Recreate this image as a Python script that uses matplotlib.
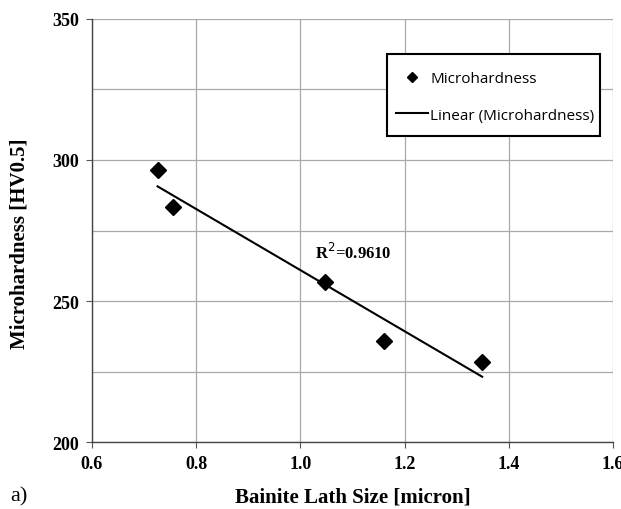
import matplotlib.pyplot as plt
import matplotlib.patches as mpatches
import numpy as np

# bainite lath size (micron) vs microhardness (HV0.5)
lath_size = [0.726, 0.756, 1.047, 1.161, 1.349]
hardness = [296.5, 283.2, 256.9, 235.8, 228.3]
r2_label = "R$^2$=0.9610"

x_ticks = [0.6, 0.8, 1.0, 1.2, 1.4, 1.6]
x_tick_labels = ["0.6", "0.8", "1.0", "1.2", "1.4", "1.6"]
y_ticks = [200, 250, 300, 350]
y_grid = [225, 275, 325]

serif_bold = dict(family="Liberation Serif", fontweight="bold")

fig = plt.figure(figsize=(6.21, 5.1), dpi=100)
ax = fig.add_axes([0.148, 0.131, 0.839, 0.830])

x = np.array(lath_size)
y = np.array(hardness)
slope, icpt = np.polyfit(x, y, 1)
xf = np.array([x.min(), x.max()])

ax.plot(x, y, "D", color="black", ms=8, label="Microhardness", zorder=3)
ax.plot(xf, slope * xf + icpt, "-", color="black", lw=1.5,
        label="Linear (Microhardness)", zorder=2)

ax.set_xlim(0.6, 1.6)
ax.set_ylim(200, 350)
ax.set_xticks(x_ticks)
ax.set_xticklabels(x_tick_labels)
ax.set_yticks(y_ticks)
ax.set_yticks(y_grid, minor=True)
ax.tick_params(which="minor", length=0)
ax.tick_params(which="major", direction="out", length=4, color="#555555",
               pad=5)
ax.grid(True, which="both", color="#a8a8a8", lw=0.9)
ax.set_axisbelow(True)

for lbl in ax.get_xticklabels() + ax.get_yticklabels():
    lbl.set_fontfamily("Liberation Serif")
    lbl.set_fontweight("bold")
    lbl.set_fontsize(13)

for s in ["top", "right"]:
    ax.spines[s].set_visible(False)
for s in ["left", "bottom"]:
    ax.spines[s].set_color("#444444")
    ax.spines[s].set_linewidth(1.0)

fig.text(0.568, 0.025, "Bainite Lath Size [micron]", fontsize=15,
         ha="center", va="center", **serif_bold)
fig.text(0.032, 0.522, "Microhardness [HV0.5]", fontsize=15, rotation=90,
         ha="center", va="center", **serif_bold)

ax.text(1.028, 267.4, r2_label, fontsize=12, va="center", ha="left", **serif_bold)
fig.text(0.016, 0.025, "a)", fontsize=16, family="Liberation Serif",
         va="center")

# legend box drawn by hand so the padding matches
fig.patches.append(mpatches.Rectangle((0.623, 0.731), 0.343, 0.161,
                                      transform=fig.transFigure, fill=True,
                                      facecolor="white", edgecolor="black",
                                      lw=1.5, zorder=4))
leg = fig.legend(*ax.get_legend_handles_labels(), loc="center left",
                 bbox_to_anchor=(0.637, 0.808),
                 prop={"family": "Open Sans", "size": 11},
                 frameon=False, borderpad=0, labelspacing=1.4,
                 handlelength=2.15, handletextpad=0.12, borderaxespad=0,
                 markerscale=0.65)
leg.set_zorder(5)

fig.savefig("out.png", dpi=100)
